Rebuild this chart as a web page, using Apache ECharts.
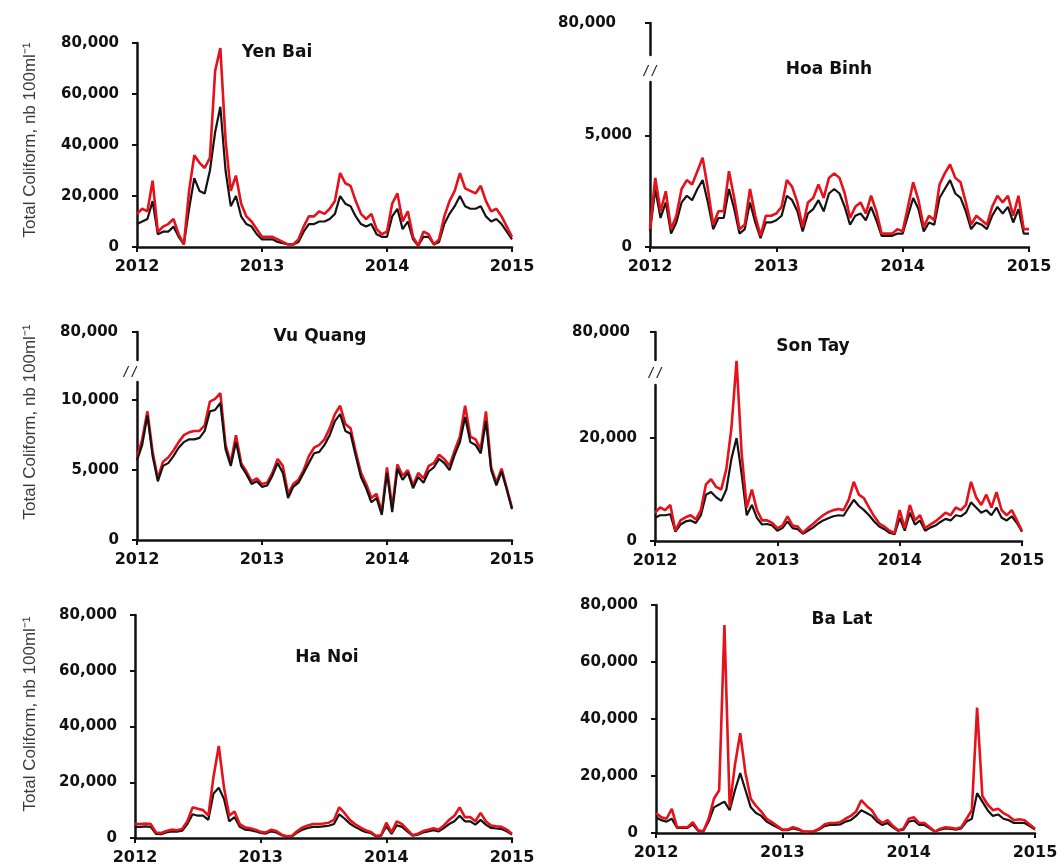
<!DOCTYPE html>
<html>
<head>
<meta charset="utf-8">
<script src="https://cdn.jsdelivr.net/npm/echarts@6/dist/echarts.min.js"></script>
<style>
html,body{margin:0;padding:0;background:#fff;}
#c{width:1064px;height:868px;}
</style>
</head>
<body>
<div id="c"></div>
<script>
// ---------- DATA (semi-monthly samples, 2012 -> 2015) ----------
const yearTicks = [2012, 2013, 2014, 2015];
const samplesPerYear = 24;
const dates = [];
for (let i = 0; i <= 72; i++) dates.push(2012 + i / samplesPerYear);

const yenBaiRed = [13000,15000,14000,26000,6000,8000,9000,11000,5000,1000,
  22000,36000,33000,31000,35000,69000,78000,42000,22000,28000,
  17000,12000,10000,7000,4000,4000,4000,3000,2000,1000,
  1000,3000,8000,12000,12000,14000,13000,15000,18000,29000,
  25000,24000,18000,13000,11000,13000,7000,5000,6000,17000,
  21000,10000,14000,4000,500,6000,5000,1000,3000,12000,
  18000,22000,29000,23000,22000,21000,24000,18000,14000,15000,
  12000,8000,4000];
const yenBaiBlack = [9000,10000,11000,18000,5000,6000,6000,8000,4000,1000,
  15000,27000,22000,21000,30000,45000,55000,30000,16000,20000,
  12000,9000,8000,5000,3000,3000,3000,2000,1500,1000,
  1000,2000,6000,9000,9000,10000,10000,11000,13000,20000,
  17000,16000,12000,9000,8000,9000,5000,4000,4000,12000,
  15000,7000,10000,3000,500,4000,4000,1000,2000,9000,
  13000,16000,20000,16000,15000,15000,16000,12000,10000,11000,
  9000,6000,3000];

const hoaBinhRed = [800,3100,1600,2500,800,1400,2600,3000,2800,3400,
  4000,2600,1000,1600,1600,3400,2200,800,1000,2600,
  1400,500,1400,1400,1500,1800,3000,2700,2000,900,
  2000,2200,2800,2200,3100,3300,3100,2400,1300,1800,
  2000,1500,2300,1600,600,600,600,800,700,1800,
  2900,2100,900,1400,1200,2800,3300,3700,3100,2900,
  2000,1000,1400,1200,1000,1800,2300,2000,2300,1400,
  2300,800,800];
const hoaBinhBlack = [700,2600,1300,2000,600,1100,2000,2300,2100,2600,
  3000,2000,800,1300,1300,2600,1700,600,800,2000,
  1100,400,1100,1100,1200,1400,2300,2100,1600,700,
  1500,1700,2100,1600,2400,2600,2400,1800,1000,1400,
  1500,1200,1800,1200,500,500,500,600,600,1400,
  2200,1700,700,1100,1000,2200,2600,3000,2400,2200,
  1600,800,1100,1000,800,1400,1800,1500,1800,1100,
  1700,600,600];

const vuQuangRed = [5900,7200,9200,6300,4400,5600,5900,6400,7000,7500,
  7700,7800,7800,8200,9900,10100,10500,6800,5500,7500,
  5500,4900,4200,4400,4000,4100,4800,5800,5300,3300,
  4000,4300,5000,6000,6600,6800,7200,8000,9000,9600,
  8300,8000,6300,4800,4000,3000,3300,2000,5200,2300,
  5400,4600,5000,3900,4800,4400,5300,5500,6100,5800,
  5300,6400,7400,9600,7400,7200,6500,9200,5200,4100,
  5100,3700,2300];
const vuQuangBlack = [5700,6800,8900,6000,4200,5300,5500,6000,6600,7000,
  7200,7200,7300,7800,9200,9300,9800,6500,5300,7000,
  5300,4700,4000,4200,3800,3900,4600,5500,4800,3000,
  3800,4100,4800,5500,6200,6300,6800,7500,8500,9000,
  7800,7600,6000,4500,3700,2700,3000,1800,4800,2000,
  5100,4300,4800,3700,4500,4100,4900,5200,5800,5500,
  5000,6100,7000,8800,7000,6800,6200,8500,5000,3900,
  4900,3600,2200];

const sonTayRed = [5500,6500,6000,7000,2000,4000,4600,5000,4200,6000,
  11000,12000,10500,10000,14000,22000,35000,17000,6500,10000,
  6000,4000,4000,3500,2500,3000,4800,3000,2800,1600,
  2500,3300,4200,5000,5600,6000,6200,6000,8000,11500,
  9000,8300,6500,4800,3400,2800,2000,1500,6000,2500,
  7000,4000,5000,2500,3200,3800,4600,5500,5000,6500,
  6000,7000,11500,8500,7000,9000,6500,9500,6000,5000,
  6000,4000,2000];
const sonTayBlack = [4500,5000,5000,5200,1800,3200,3800,4000,3500,5000,
  9000,9500,8500,7800,10000,16000,20000,13000,5000,7000,
  4500,3200,3300,3000,2000,2500,3800,2500,2300,1400,
  2000,2600,3400,4000,4400,4800,5000,4900,6500,8000,
  6800,6000,5000,3800,2800,2300,1600,1300,4500,2000,
  5500,3200,4000,2000,2600,3000,3700,4300,4000,5000,
  4800,5500,7500,6500,5500,6000,5000,6500,4500,4000,
  4800,3500,1800];

const haNoiRed = [5000,5000,5200,5000,2000,1800,2500,3000,2800,3200,
  6000,11000,10500,10000,8000,22000,33000,18000,8000,9500,
  5000,3800,3500,3000,2200,2000,3000,2500,1200,600,
  800,2500,3800,4500,5000,5000,5200,5500,6500,11000,
  9000,6500,5000,3800,2800,2200,800,1000,5500,2000,
  6000,5000,3000,1000,1500,2500,3000,3500,3000,4500,
  6500,8000,11000,7500,7500,6000,9000,6000,4500,4200,
  4000,3000,1500];
const haNoiBlack = [4000,4000,4200,4000,1500,1400,2000,2400,2300,2600,
  5000,8500,8000,8000,6500,16000,18000,14000,6000,7500,
  4000,3000,2800,2400,1800,1600,2400,2000,1000,500,
  600,2000,3000,3600,4000,4000,4200,4400,5000,8500,
  7000,5200,4000,3000,2200,1800,600,800,4200,1500,
  4600,4000,2400,800,1200,2000,2400,2800,2400,3600,
  5000,6000,8000,6000,6000,4800,6500,4800,3600,3400,
  3200,2400,1200];

const baLatRed = [7000,5500,5000,8500,2000,2000,2000,3800,1000,600,
  5000,12000,15000,73000,9000,24000,35000,21000,12000,9500,
  7500,5000,3800,2500,1200,1200,2000,1500,500,500,
  600,1500,3000,3500,3500,3800,5000,6000,7500,11500,
  9500,8000,5000,3500,4500,2500,1000,1500,5000,5500,
  3500,3500,2000,500,1500,2000,1800,1500,2000,5000,
  8000,44000,13000,10000,8000,8500,7000,6000,4500,4800,
  4500,3000,1500];
const baLatBlack = [5500,4500,4000,5000,1800,1800,1800,3000,800,500,
  4000,9000,10000,11000,8000,15000,21000,15000,9000,7000,
  6000,4000,3000,2000,1000,1000,1600,1200,400,400,
  500,1200,2400,2800,2800,3000,4000,4500,6000,8000,
  7000,6000,4000,2800,3500,2000,800,1200,4000,4400,
  2800,2800,1600,400,1200,1600,1400,1200,1600,4000,
  5000,14000,11000,8000,6000,6500,5000,4500,3500,3600,
  3500,2400,1200];

const yTitle = 'Total Coliform, nb 100ml\u207B\u00B9';

// ---------- LAYOUT ----------
const panels = [
  {name:'Yen Bai', red:yenBaiRed, black:yenBaiBlack, box:{left:137, top:43, width:375, height:204},
   max:80000, interval:20000, ticks:[0,20000,40000,60000,80000], title:[277,53], yName:140},
  {name:'Hoa Binh', red:hoaBinhRed, black:hoaBinhBlack, box:{left:650, top:82, width:379, height:165},
   max:7400, interval:5000, ticks:[0,5000], upper:{top:23, height:32, margin:34}, brkGap:3, brkShift:0, title:[829,70]},
  {name:'Vu Quang', red:vuQuangRed, black:vuQuangBlack, box:{left:137, top:382, width:375, height:158},
   max:11300, interval:5000, ticks:[0,5000,10000], upper:{top:332, height:28, margin:19}, brkGap:2, brkShift:14,
   title:[320,337], yName:422, blackOnTop:true},
  {name:'Son Tay', red:sonTayRed, black:sonTayBlack, box:{left:655, top:385, width:367, height:156},
   max:30300, interval:20000, ticks:[0,20000], upper:{top:332, height:28, margin:25}, brkGap:4, brkShift:0, title:[813,347]},
  {name:'Ha Noi', red:haNoiRed, black:haNoiBlack, box:{left:135, top:615, width:377, height:223},
   max:80000, interval:20000, ticks:[0,20000,40000,60000,80000], title:[327,658], yName:714},
  {name:'Ba Lat', red:baLatRed, black:baLatBlack, box:{left:656, top:605, width:379, height:228},
   max:80000, interval:20000, ticks:[0,20000,40000,60000,80000], title:[842,620]}
];

const NUM_FONT = '"DejaVu Sans", "Liberation Sans", Arial, sans-serif';
const TXT_FONT = '"Liberation Sans", Arial, sans-serif';
const RED = '#e5121b';
const BLACK = '#141414';
const AXIS = '#111111';

const grids = [], xAxes = [], yAxes = [], series = [], graphics = [];
const fmt = v => v.toLocaleString('en-US');

panels.forEach(p => {
  const gi = grids.length;
  grids.push(Object.assign({outerBoundsMode:'none', containLabel:false}, p.box));
  xAxes.push({
    type:'value', gridIndex:gi, min:2012, max:2015, interval:1,
    axisLine:{show:true, onZero:false, lineStyle:{color:AXIS, width:2.5}},
    axisTick:{show:true, length:5, lineStyle:{color:AXIS, width:2}},
    axisLabel:{margin:12, color:AXIS, fontWeight:'bold', fontSize:16, fontFamily:NUM_FONT,
      formatter: v => yearTicks.includes(v) ? String(v) : ''},
    splitLine:{show:false}
  });
  yAxes.push({
    type:'value', gridIndex:gi, min:0, max:p.max, interval:p.interval,
    axisLine:{show:true, onZero:false, lineStyle:{color:AXIS, width:2.5}},
    axisTick:{show:true, length:5, customValues:p.ticks, lineStyle:{color:AXIS, width:2}},
    axisLabel:{margin:18, color:AXIS, fontWeight:'bold', fontSize:15, fontFamily:NUM_FONT,
      customValues:p.ticks, formatter: v => p.ticks.includes(v) ? fmt(v) : ''},
    splitLine:{show:false},
    name: p.upper ? '/ /' : '',
    nameLocation:'end', nameGap: p.brkGap || 0,
    nameTextStyle:{color:AXIS, fontSize:15, fontStyle:'italic', fontFamily:TXT_FONT, align:'center',
      padding:[0, (p.brkShift || 0), 0, 0]}
  });
  const redS = {name:'red', type:'line', xAxisIndex:gi, yAxisIndex:gi,
    data: dates.map((d, i) => [d, p.red[i]]), showSymbol:false, symbol:'none', clip:false,
    lineStyle:{color:RED, width:2.6}, itemStyle:{color:RED}, animation:false};
  const blackS = {name:'black', type:'line', xAxisIndex:gi, yAxisIndex:gi,
    data: dates.map((d, i) => [d, p.black[i]]), showSymbol:false, symbol:'none', clip:false,
    lineStyle:{color:BLACK, width:2.2}, itemStyle:{color:BLACK}, animation:false};
  if (p.blackOnTop) { redS.z = 2; blackS.z = 3; } else { blackS.z = 2; redS.z = 3; }
  series.push(blackS, redS);

  if (p.upper) {
    const gu = grids.length;
    grids.push({outerBoundsMode:'none', containLabel:false, left:p.box.left, width:p.box.width,
      top:p.upper.top, height:p.upper.height});
    xAxes.push({type:'value', gridIndex:gu, min:2012, max:2015, show:false});
    yAxes.push({
      type:'value', gridIndex:gu, min:78000, max:80000, interval:2000,
      axisLine:{show:true, onZero:false, lineStyle:{color:AXIS, width:2.5}},
      axisTick:{show:true, length:5, customValues:[80000], lineStyle:{color:AXIS, width:2}},
      axisLabel:{margin:p.upper.margin, color:AXIS, fontWeight:'bold', fontSize:15, fontFamily:NUM_FONT,
        customValues:[80000], formatter: v => v === 80000 ? fmt(v) : ''},
      splitLine:{show:false}
    });
  }

  graphics.push({type:'text', x:p.title[0], y:p.title[1], z:100,
    style:{text:p.name, fill:AXIS, font:'bold 17px ' + NUM_FONT, align:'center', verticalAlign:'middle'}});
  if (p.yName) {
    graphics.push({type:'text', x:30, y:p.yName, rotation:Math.PI/2, z:100,
      style:{text:yTitle, fill:'#3a3a3a', font:'17px ' + TXT_FONT, align:'center', verticalAlign:'middle'}});
  }
});

const chart = echarts.init(document.getElementById('c'), null, {renderer:'canvas'});
chart.setOption({
  backgroundColor:'#ffffff',
  animation:false,
  grid:grids, xAxis:xAxes, yAxis:yAxes, series:series, graphic:graphics,
  tooltip:{show:false}
});
</script>
</body>
</html>
